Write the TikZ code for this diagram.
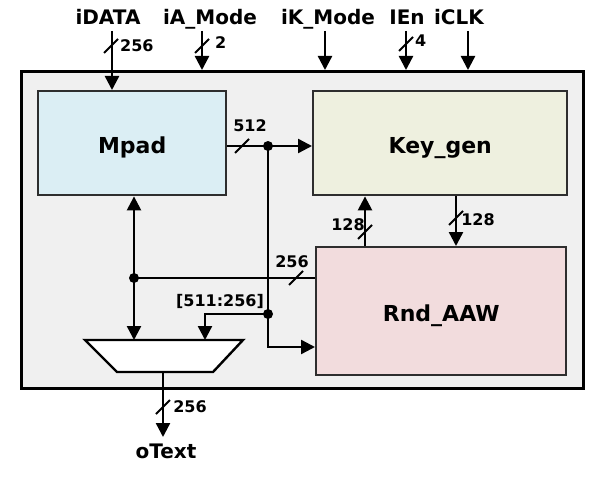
\documentclass[tikz,border=0pt]{standalone}
\usepackage{fontspec}
\setmainfont{DejaVu Sans}
\usetikzlibrary{arrows.meta,calc}
\definecolor{outerfill}{HTML}{F0F0F0}
\definecolor{mpadfill}{HTML}{DBEEF4}
\definecolor{keyfill}{HTML}{EEF0DF}
\definecolor{rndfill}{HTML}{F2DCDD}
\definecolor{edgecol}{HTML}{2E2E2E}
\begin{document}
\begin{tikzpicture}[x=1pt,y=-1pt,
  wire/.style={line width=2.4pt, draw=black},
  arr/.style={wire, -{Triangle[length=14pt,width=14pt]}},
  darr/.style={wire, {Triangle[length=14pt,width=14pt]}-{Triangle[length=14pt,width=14pt]}},
  bus/.style={line width=2pt, draw=black},
  block/.style={draw=edgecol, line width=2.4pt, inner sep=0pt, text height=20pt, text depth=0pt,
    font=\fontsize{22}{25}\selectfont\bfseries, anchor=north west},
  sig/.style={font=\fontsize{20}{23}\selectfont\bfseries, inner sep=0pt, anchor=base},
  num/.style={font=\fontsize{16}{19}\selectfont\bfseries, inner sep=0pt, anchor=base},
  dot/.style={circle, fill=black, inner sep=0pt, minimum size=10pt}
]
\useasboundingbox[fill=white] (0,0) rectangle (593,484);

% outer frame and blocks
\node[draw=black, line width=3.2pt, fill=outerfill, minimum width=562pt, minimum height=317pt,
  anchor=north west, inner sep=0pt] (outer) at (20,70) {};
\node[block, fill=mpadfill, minimum width=188pt, minimum height=104pt] (mpad) at (37,90) {Mpad};
\node[block, fill=keyfill, minimum width=254pt, minimum height=104pt] (keygen) at (312,90) {Key\_gen};
\node[block, fill=rndfill, minimum width=250pt, minimum height=128pt] (rnd) at (315,246) {Rnd\_AAW};

% multiplexer
\draw[line width=2.4pt, draw=black, fill=white] (85,340) -- (243,340) -- (213,372) -- (117,372) -- cycle;
\coordinate (muxL) at (134,340);
\coordinate (muxR) at (205,340);
\coordinate (muxO) at (163,372);

% top signals
\node[sig] (lDATA) at (108,25) {iDATA};
\node[sig] (lA) at (210,25) {iA\_Mode};
\node[sig] (lK) at (328,25) {iK\_Mode};
\node[sig] (lE) at (407,25) {IEn};
\node[sig] (lC) at (459,25) {iCLK};
\coordinate (sDATA) at (112,31);
\coordinate (sA) at (202,31);
\coordinate (sK) at (325,31);
\coordinate (sE) at (406,31);
\coordinate (sC) at (468,31);
\draw[arr] (sDATA) -- (sDATA |- mpad.north);
\draw[arr] (sA) -- (sA |- outer.north);
\draw[arr] (sK) -- (sK |- outer.north);
\draw[arr] (sE) -- (sE |- outer.north);
\draw[arr] (sC) -- (sC |- outer.north);
\draw[bus] (111,46) ++(-7,7) -- ++(14,-14);
\draw[bus] (202,46) ++(-7,7) -- ++(14,-14);
\draw[bus] (406,44) ++(-7,7) -- ++(14,-14);
\node[num, anchor=base west] (nDATA) at (120,52) {256};
\node[num, anchor=base west] (nA) at (215,49) {2};
\node[num, anchor=base west] (nE) at (415,47) {4};

% 512 bus
\coordinate (j1) at (268,146);
\coordinate (j2) at (268,314);
\coordinate (c3) at (268,347);
\draw[arr] (mpad.east |- j1) -- (keygen.west |- j1);
\draw[arr] (j1) -- (c3) -- (rnd.west |- c3);
\draw[arr] (j2) -| (muxR);
\node[dot] (d1) at (j1) {};
\node[dot] (d2) at (j2) {};
\draw[bus] (242,146) ++(-7,7) -- ++(14,-14);
\node[num] (n512) at (250,131) {512};
\node[num] (nsel) at (220,306) {[511:256]};

% Mpad <-> mux, 256 bus to Rnd_AAW
\coordinate (jL) at (134,278);
\draw[darr] (mpad.south -| jL) -- (muxL);
\draw[wire] (jL) -- (rnd.west |- jL);
\node[dot] (d3) at (jL) {};
\draw[bus] (296,278) ++(-7,7) -- ++(14,-14);
\node[num] (n256m) at (292,267) {256};

% Key_gen <-> Rnd_AAW
\draw[arr] ([xshift=50pt]rnd.north west) -- ([xshift=53pt]keygen.south west);
\draw[arr] ([xshift=144pt]keygen.south west) -- ([xshift=141pt]rnd.north west);
\draw[bus] (365,232) ++(-7,7) -- ++(14,-14);
\draw[bus] (456,218) ++(-7,7) -- ++(14,-14);
\node[num] (n128l) at (348,230) {128};
\node[num] (n128r) at (478,225) {128};

% output
\node[sig] (otext) at (166,458) {oText};
\coordinate (oT) at (163,437);
\draw[arr] (muxO) -- (oT);
\draw[bus] (163,407) ++(-7,7) -- ++(14,-14);
\node[num] (nout) at (190,412) {256};
\end{tikzpicture}
\end{document}
